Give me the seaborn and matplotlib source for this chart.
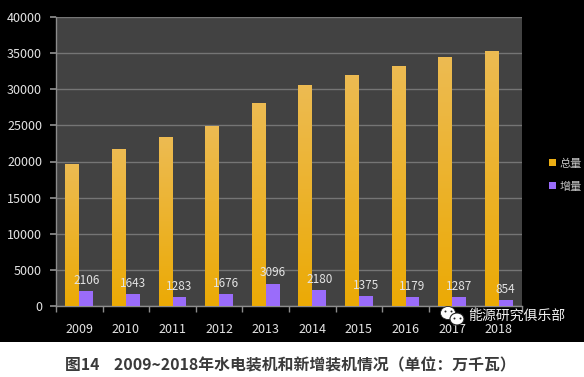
import numpy as np
import pandas as pd
import matplotlib
matplotlib.use('Agg')
import matplotlib.pyplot as plt
import seaborn as sns
from matplotlib.colors import LinearSegmentedColormap
from matplotlib.patches import Ellipse, Rectangle

# --- data ---
years = ['2009', '2010', '2011', '2012', '2013', '2014', '2015', '2016', '2017', '2018']
total = [19600, 21600, 23300, 24900, 28000, 30500, 31950, 33200, 34400, 35200]
added = [2106, 1643, 1283, 1676, 3096, 2180, 1375, 1179, 1287, 854]
series_names = ['总量', '增量']
y_ticks = [0, 5000, 10000, 15000, 20000, 25000, 30000, 35000, 40000]
title_text = '图14    2009~2018年水电装机和新增装机情况（单位：万千瓦）'
mark_text = '能源研究俱乐部'

W, H = 584, 377
GOLD = '#EBAE14'
PURPLE = '#9A6CFA'
TEXT = '#E4E4E4'
GRID = '#757575'

sns.set_theme(style='dark')
plt.rcParams['font.family'] = ['Noto Sans CJK SC', 'DejaVu Sans']
plt.rcParams['axes.unicode_minus'] = False

df = pd.DataFrame({
    'year': years * 2,
    'value': total + added,
    'kind': [series_names[0]] * len(years) + [series_names[1]] * len(years),
})

fig = plt.figure(figsize=(W / 100, H / 100), dpi=100, facecolor='white')
# black panel behind the chart, white strip left for the caption
fig.add_artist(Rectangle((0, 1 - 342 / H), 1, 342 / H, transform=fig.transFigure,
                         facecolor='black', edgecolor='none', zorder=-5))
ax = fig.add_axes([56 / W, 1 - 306 / H, (522 - 56) / W, (306 - 17) / H])

sns.barplot(data=df, x='year', y='value', hue='kind', order=years, hue_order=series_names,
            palette=[GOLD, PURPLE], width=0.6, gap=0, dodge=True, saturation=1,
            linewidth=0, edgecolor='none', ax=ax, zorder=3)

ax.set_facecolor('#424242')
ax.set_xlim(-0.5, len(years) - 0.5)
ax.set_ylim(0, 40000)
ax.set_yticks(y_ticks)
ax.set_xlabel('')
ax.set_ylabel('')
ax.grid(axis='y', color=GRID, linewidth=1, zorder=1)
ax.grid(axis='x', visible=False)
ax.set_axisbelow(True)
for spine in ax.spines.values():
    spine.set_visible(False)
for side in ['left', 'bottom']:
    ax.spines[side].set_visible(True)
    ax.spines[side].set_color('#8C8C8C')
    ax.spines[side].set_linewidth(1)

# ticks sit between the categories, labels stay centred
ax.set_xticks(np.arange(-0.5, len(years)), minor=True)
ax.tick_params(axis='x', which='minor', length=4, color='#8C8C8C', bottom=True)
ax.tick_params(axis='x', which='major', length=0, pad=12, labelsize=9, labelcolor=TEXT)
ax.tick_params(axis='y', length=4, color='#8C8C8C', left=True, pad=6, labelsize=9, labelcolor=TEXT)

# vertical gradient on the gold bars
gold_cmap = LinearSegmentedColormap.from_list('gold_fade', ['#EDBB52', '#EBAA05'])
gradient = np.linspace(0, 1, 128).reshape(-1, 1)
for bar in ax.containers[0]:
    x0, w, h = bar.get_x(), bar.get_width(), bar.get_height()
    ax.imshow(gradient, cmap=gold_cmap, aspect='auto', extent=(x0, x0 + w, 0, h), zorder=3.5)
ax.set_xlim(-0.5, len(years) - 0.5)
ax.set_ylim(0, 40000)

ax.bar_label(ax.containers[1], fmt='%d', padding=3, fontsize=8.5, color=TEXT, zorder=5)

handles, labels = ax.get_legend_handles_labels()
leg = ax.legend(handles, labels, loc='center left', bbox_to_anchor=(539 / W, 1 - 175 / H),
                bbox_transform=fig.transFigure, frameon=False, fontsize=8, handlelength=0.65,
                handleheight=0.65, handletextpad=0.3, labelspacing=1.15, labelcolor='#C8C8C8')

# overlay in pixel coordinates for caption and watermark
top = fig.add_axes([0, 0, 1, 1], zorder=10)
top.set_xlim(0, W)
top.set_ylim(H, 0)
top.axis('off')
top.patch.set_alpha(0)
top.text(290, 365, title_text, ha='center', va='center', fontsize=11.4, fontweight='bold', color='#3A3A3A')
top.add_patch(Ellipse((448, 313), 15, 13, facecolor='white', edgecolor='#222222', linewidth=0.6))
top.add_patch(Ellipse((457, 319), 14, 12, facecolor='white', edgecolor='#222222', linewidth=0.8))
top.scatter([445, 451, 454, 460], [311, 311, 318, 318], s=2, color='#222222', linewidths=0)
top.text(468, 316, mark_text, ha='left', va='center', fontsize=10, color='#F2F2F2')

fig.savefig('out.png', dpi=100, facecolor='white')
